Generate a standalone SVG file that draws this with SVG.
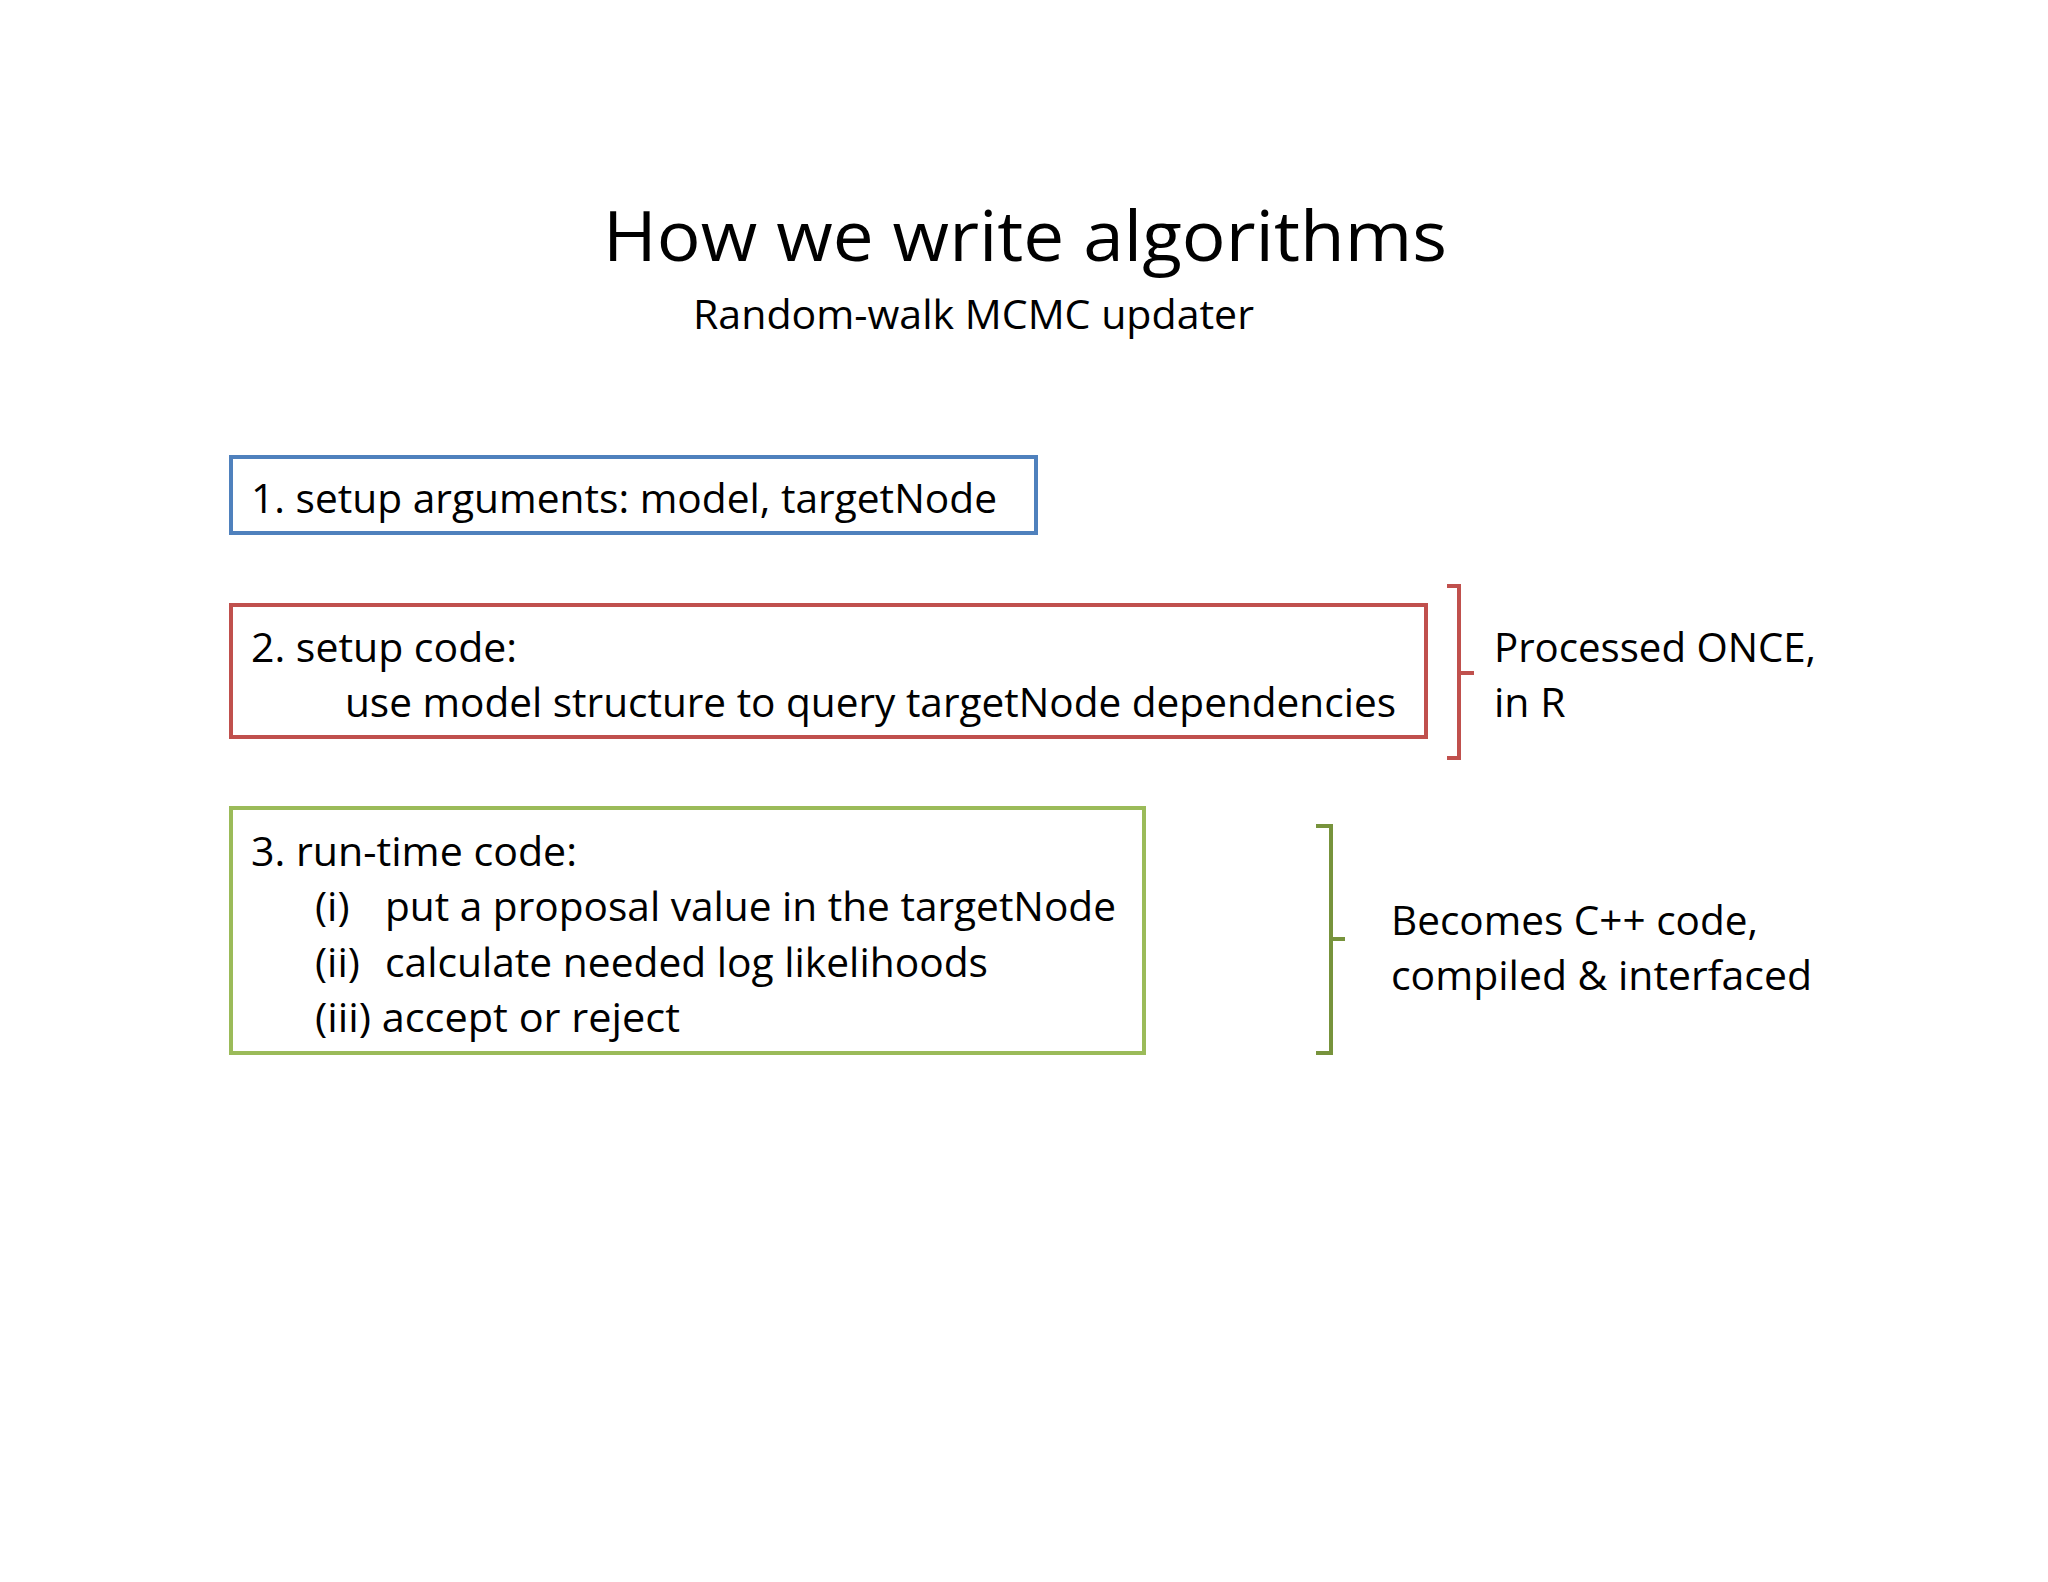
<svg xmlns="http://www.w3.org/2000/svg" width="2048" height="1582" viewBox="0 0 2048 1582">
<style>
text{font-family:"Open Sans","Liberation Sans",sans-serif;fill:#000;font-size:41px}
.box{fill:none;stroke-width:4}
.br{fill:none;stroke-width:4;stroke-linejoin:miter}
</style>
<rect width="2048" height="1582" fill="#fff"/>
<text x="1025" y="261" text-anchor="middle" style="font-size:70px" textLength="844" lengthAdjust="spacingAndGlyphs">How we write algorithms</text>
<text x="693" y="329" textLength="561" lengthAdjust="spacingAndGlyphs">Random-walk MCMC updater</text>
<g id="node1">
<rect class="box" x="231" y="457" width="805" height="76" stroke="#4f81bd"/>
<text x="251" y="513" textLength="746" lengthAdjust="spacingAndGlyphs">1. setup arguments: model, targetNode</text>
</g>
<g id="node2">
<rect class="box" x="231" y="605" width="1195" height="132" stroke="#c0504d"/>
<text x="251" y="662" textLength="266" lengthAdjust="spacingAndGlyphs">2. setup code:</text>
<text x="345" y="717" textLength="1051" lengthAdjust="spacingAndGlyphs">use model structure to query targetNode dependencies</text>
</g>
<g id="node3">
<rect class="box" x="231" y="808" width="913" height="245" stroke="#9bbb59"/>
<text x="251" y="866" textLength="326" lengthAdjust="spacingAndGlyphs">3. run-time code:</text>
<text x="315" y="921">(i)</text>
<text x="385" y="921" textLength="731" lengthAdjust="spacingAndGlyphs">put a proposal value in the targetNode</text>
<text x="315" y="977">(ii)</text>
<text x="385" y="977" textLength="603" lengthAdjust="spacingAndGlyphs">calculate needed log likelihoods</text>
<text x="315" y="1032" textLength="365" lengthAdjust="spacingAndGlyphs">(iii) accept or reject</text>
</g>
<g id="connectors">
<path class="br" stroke="#c0504d" d="M1447 586 H1459 V673 H1474 M1459 673 V758 H1447"/>
<path class="br" stroke="#77933c" d="M1316 826 H1331 V939 H1345 M1331 939 V1053 H1316"/>
</g>
<g id="labels">
<text x="1494" y="662" textLength="322" lengthAdjust="spacingAndGlyphs">Processed ONCE,</text>
<text x="1494" y="717">in R</text>
<text x="1391" y="935" textLength="367" lengthAdjust="spacingAndGlyphs">Becomes C++ code,</text>
<text x="1391" y="990" textLength="421" lengthAdjust="spacingAndGlyphs">compiled &amp; interfaced</text>
</g>
</svg>
